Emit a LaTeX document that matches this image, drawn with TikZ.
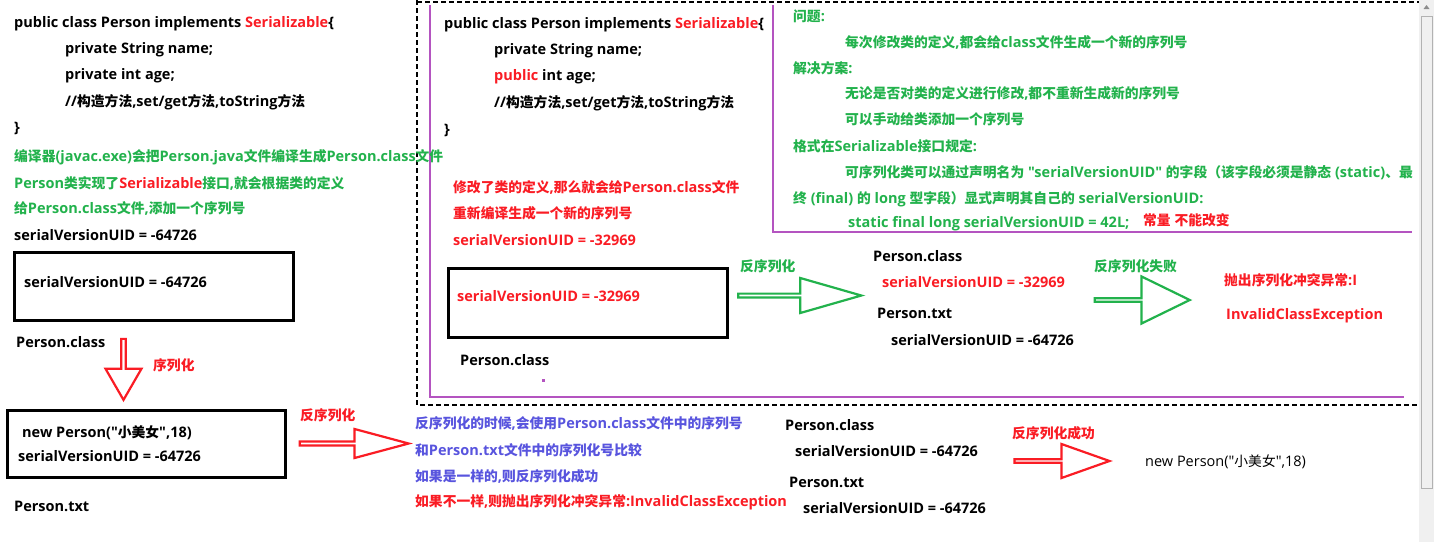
\documentclass[tikz,border=0pt]{standalone}
\usepackage{fontspec}
\setmainfont{Open Sans}
\newfontfamily\latinfont{Open Sans}
\newfontfamily\cjkfont[Scale=0.95]{Noto Sans CJK SC}
\usetikzlibrary{shapes.arrows}

% switch to the CJK font for Chinese characters
\XeTeXinterchartokenstate=1
\newXeTeXintercharclass\cjkclass
\count255="3000
\loop \XeTeXcharclass\count255=\cjkclass \advance\count255 by 1 \ifnum\count255<"A000 \repeat
\count255="FF00
\loop \XeTeXcharclass\count255=\cjkclass \advance\count255 by 1 \ifnum\count255<"FFF0 \repeat
\XeTeXinterchartoks 0 \cjkclass = {\cjkfont}
\XeTeXinterchartoks 4095 \cjkclass = {\cjkfont}
\XeTeXinterchartoks \cjkclass 0 = {\latinfont}
\XeTeXinterchartoks \cjkclass 4095 = {\latinfont}

\definecolor{redtxt}{RGB}{250,28,36}
\definecolor{greentxt}{RGB}{34,178,76}
\definecolor{bluetxt}{RGB}{88,84,222}
\definecolor{purpleline}{RGB}{180,84,192}

\begin{document}
\begin{tikzpicture}[x=1pt, y=-1pt,
  txt/.style={anchor=west, inner sep=0pt, font=\latinfont\fontsize{14.5}{16}\selectfont\bfseries},
  codebox/.style={draw=black, line width=3pt, inner sep=0pt},
  fence/.style={draw=purpleline, line width=2.5pt},
  frame/.style={line width=1.1pt, dash pattern=on 5pt off 3pt},
  blockarrow/.style={single arrow, line width=2.2pt, inner sep=0pt, single arrow head indent=0pt}]
\useasboundingbox[fill=white] (0,0) rectangle (1434,542);

% frames
\draw[frame] (417,0) -- (417,405) -- (1425,405);
\draw[frame] (417,2) -- (1419,2);
\draw[fence] (430,5) -- (430,397) -- (1404,397);
\draw[fence] (773,5) -- (773,232) -- (1412,232);
\fill[purpleline] (542,379) rectangle (545,382);

% scrollbar
\fill[black!6] (1419,0) rectangle (1434,542);
\draw[black!30] (1421,16) rectangle (1432,488);
\fill[black!45] (1423.5,9) -- (1429.5,9) -- (1426.5,5) -- cycle;

% left column
\node[txt] (lc1) at (14,24) {public class Person implements \textcolor{redtxt}{Serializable}\{};
\node[txt] (lc2) at (65,50) {private String name;};
\node[txt] (lc3) at (65,76) {private int age;};
\node[txt] (lc4) at (65,102) {//构造方法,set/get方法,toString方法};
\node[txt] (lc5) at (14,128) {\}};
\node[txt, greentxt] (ln1) at (14,157) {编译器(javac.exe)会把Person.java文件编译生成Person.class文件};
\node[txt, greentxt] (ln2) at (14,183) {Person类实现了\textcolor{redtxt}{Serializable}接口,就会根据类的定义};
\node[txt, greentxt] (ln3) at (14,208) {给Person.class文件,添加一个序列号};
\node[txt] (ln4) at (14,235) {serialVersionUID = -64726};

\node[codebox, minimum width=279, minimum height=68] (classBox) at (153.5,286) {};
\node[txt] (classUid) at (24,282) {serialVersionUID = -64726};
\node[txt] (className) at (16,342) {Person.class};
\node[blockarrow, draw=redtxt, shape border rotate=270, minimum height=61, minimum width=36,
  single arrow head extend=8, single arrow tip angle=60] (serArrow) at (123.5,367.5) {};
\node[txt, redtxt] (serLabel) at (153,365) {序列化};

\node[codebox, minimum width=278, minimum height=67] (txtBox) at (146,443.5) {};
\node[txt] (txtObj) at (22,433) {new Person("小美女",18)};
\node[txt] (txtUid) at (18,456) {serialVersionUID = -64726};
\node[txt] (txtName) at (14,506) {Person.txt};
\node[blockarrow, draw=redtxt, minimum height=109, minimum width=29,
  single arrow head extend=7, single arrow tip angle=30] (deserArrow) at (350.5,443.5) {};
\node[txt, redtxt] (deserLabel) at (300,415) {反序列化};

% middle column
\node[txt] (mc1) at (444,25) {public class Person implements \textcolor{redtxt}{Serializable}\{};
\node[txt] (mc2) at (494,51) {private String name;};
\node[txt] (mc3) at (494,77) {\textcolor{redtxt}{public} int age;};
\node[txt] (mc4) at (494,103) {//构造方法,set/get方法,toString方法};
\node[txt] (mc5) at (444,130) {\}};
\node[txt, redtxt] (mn1) at (453,187) {修改了类的定义,那么就会给Person.class文件};
\node[txt, redtxt] (mn2) at (453,213) {重新编译生成一个新的序列号};
\node[txt, redtxt] (mn3) at (453,240) {serialVersionUID = -32969};

\node[codebox, minimum width=279, minimum height=69] (newBox) at (588,302.5) {};
\node[txt, redtxt] (newUid) at (457,296) {serialVersionUID = -32969};
\node[txt] (newName) at (460,360) {Person.class};
\node[blockarrow, draw=greentxt, minimum height=123, minimum width=35,
  single arrow head extend=9, single arrow tip angle=32] (readArrow) at (796.5,295.5) {};
\node[txt, greentxt] (readLabel) at (740,266) {反序列化};

\node[txt] (cmpClass) at (873,256) {Person.class};
\node[txt, redtxt] (cmpClassUid) at (882,282) {serialVersionUID = -32969};
\node[txt] (cmpTxt) at (877,313) {Person.txt};
\node[txt] (cmpTxtUid) at (891,340) {serialVersionUID = -64726};
\node[blockarrow, draw=greentxt, minimum height=95, minimum width=47,
  single arrow head extend=14, single arrow tip angle=52] (failArrow) at (1140.5,300) {};
\node[txt, greentxt] (failLabel) at (1094,266) {反序列化失败};
\node[txt, redtxt] (exc1) at (1224,280) {抛出序列化冲突异常:I};
\node[txt, redtxt] (exc2) at (1226,316) {InvalidClassException};

% notes, top right
\node[txt, greentxt] (nt1) at (793,16) {问题:};
\node[txt, greentxt] (nt2) at (845,42) {每次修改类的定义,都会给class文件生成一个新的序列号};
\node[txt, greentxt] (nt3) at (793,68) {解决方案:};
\node[txt, greentxt] (nt4) at (845,93) {无论是否对类的定义进行修改,都不重新生成新的序列号};
\node[txt, greentxt] (nt5) at (845,119) {可以手动给类添加一个序列号};
\node[txt, greentxt] (nt6) at (793,146) {格式在Serializable接口规定:};
\node[txt, greentxt] (nt7) at (845,173) {可序列化类可以通过声明名为 "serialVersionUID" 的字段（该字段必须是静态 (static)、最};
\node[txt, greentxt] (nt8) at (793,199) {终 (final) 的 long 型字段）显式声明其自己的 serialVersionUID:};
\node[txt, greentxt] (nt9) at (848,224) {static final long serialVersionUID = 42L;};
\node[txt, redtxt] (ntConst) at (1143,220) {常量 不能改变};

% bottom
\node[txt, bluetxt] (bt1) at (415,423) {反序列化的时候,会使用Person.class文件中的序列号};
\node[txt, bluetxt] (bt2) at (415,450) {和Person.txt文件中的序列化号比较};
\node[txt, bluetxt] (bt3) at (415,476) {如果是一样的,则反序列化成功};
\node[txt, redtxt] (bt4) at (415,502) {如果不一样,则抛出序列化冲突异常:InvalidClassException};

\node[txt] (okClass) at (785,425) {Person.class};
\node[txt] (okClassUid) at (795,451) {serialVersionUID = -64726};
\node[txt] (okTxt) at (789,482) {Person.txt};
\node[txt] (okTxtUid) at (803,508) {serialVersionUID = -64726};
\node[blockarrow, draw=redtxt, minimum height=95, minimum width=34,
  single arrow head extend=9.5, single arrow tip angle=39] (okArrow) at (1059.5,461) {};
\node[txt, redtxt] (okLabel) at (1012,433) {反序列化成功};
\node[txt, font=\latinfont\fontsize{14.5}{16}\selectfont] (okObj) at (1145,462) {new Person("小美女",18)};
\end{tikzpicture}
\end{document}
